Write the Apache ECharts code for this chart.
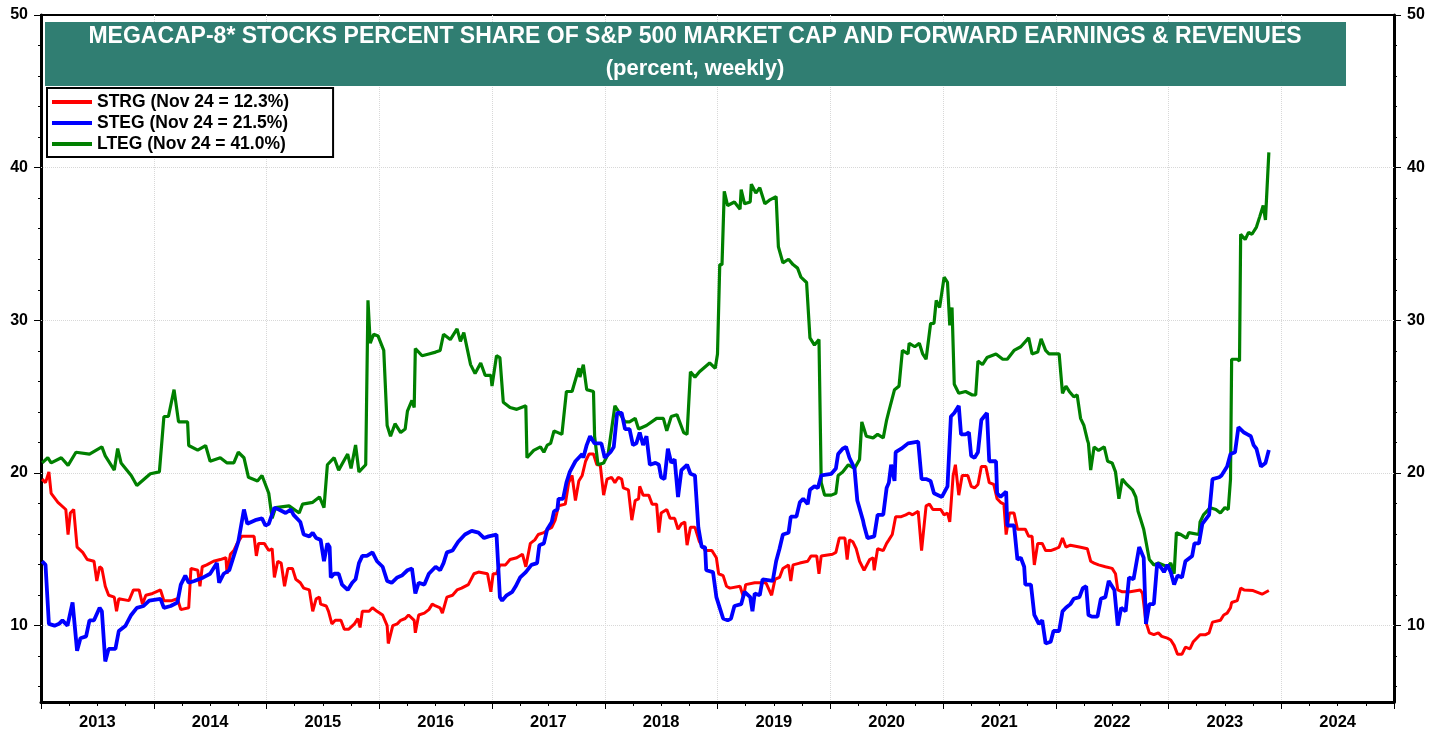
<!DOCTYPE html>
<html>
<head>
<meta charset="utf-8">
<script src="https://cdn.jsdelivr.net/npm/echarts@6/dist/echarts.min.js"></script>
<style>
  html, body { margin: 0; padding: 0; background: #fff; }
  #chart { width: 1446px; height: 736px; }
</style>
</head>
<body>
<div id="chart"></div>
<script>
// x = decimal year, y = percent
var yearLabels = ['2013', '2014', '2015', '2016', '2017', '2018', '2019', '2020', '2021', '2022', '2023', '2024'];
var yLabelValues = [10, 20, 30, 40, 50];
var yTickValues = [6, 8, 10, 12, 14, 16, 18, 20, 22, 24, 26, 28, 30, 32, 34, 36, 38, 40, 42, 44, 46, 48, 50];
var gridValues = [10, 20, 30, 40];
var seriesNames = ['STRG (Nov 24 = 12.3%)', 'STEG (Nov 24 = 21.5%)', 'LTEG (Nov 24 = 41.0%)'];

var strg = [
  [2013.01,19.6],[2013.04,19.37],[2013.07,20.07],[2013.09,18.67],[2013.15,18.08],[2013.22,17.61],[2013.24,15.97],[2013.26,17.38],[2013.29,17.61],[2013.32,15.15],[2013.37,14.8],[2013.41,14.33],[2013.47,14.22],[2013.495,12.93],[2013.52,13.86],[2013.54,13.75],[2013.57,12.58],[2013.6,11.99],[2013.65,11.87],[2013.67,10.94],[2013.69,11.76],[2013.78,11.64],[2013.82,12.34],[2013.87,12.34],[2013.9,11.41],[2013.93,11.99],[2013.99,12.11],
  [2014.06,12.34],[2014.09,11.64],[2014.16,11.64],[2014.21,11.76],[2014.24,11.05],[2014.31,11.17],[2014.33,13.75],[2014.39,13.63],[2014.41,12.58],[2014.43,13.86],[2014.47,13.98],[2014.53,14.22],[2014.59,14.33],[2014.64,14.45],[2014.65,13.4],[2014.68,14.68],[2014.71,14.92],[2014.74,15.39],[2014.78,15.85],[2014.89,15.85],[2014.91,14.57],[2014.93,15.39],[2014.98,15.39],
  [2015.02,14.92],[2015.05,15.04],[2015.07,13.16],[2015.1,14.22],[2015.13,14.1],[2015.16,12.58],[2015.19,13.75],[2015.23,13.75],[2015.26,13.04],[2015.3,12.81],[2015.33,12.46],[2015.38,12.34],[2015.41,10.94],[2015.44,11.76],[2015.47,11.87],[2015.48,11.41],[2015.53,11.29],[2015.55,10.94],[2015.58,10.12],[2015.61,10.35],[2015.66,10.35],[2015.69,9.77],[2015.73,9.77],[2015.78,10.12],[2015.81,10.47],[2015.83,9.88],[2015.85,10.94],[2015.91,10.94],[2015.94,11.17],[2015.98,10.94],
  [2016.03,10.7],[2016.07,10.0],[2016.08,8.83],[2016.12,10.0],[2016.16,10.12],[2016.19,10.35],[2016.23,10.47],[2016.26,10.7],[2016.31,10.35],[2016.32,9.53],[2016.35,10.7],[2016.4,10.82],[2016.44,11.05],[2016.47,11.41],[2016.5,11.29],[2016.54,11.17],[2016.56,10.82],[2016.6,11.87],[2016.65,11.99],[2016.69,12.34],[2016.73,12.46],[2016.79,12.69],[2016.84,13.4],[2016.88,13.51],[2016.96,13.4],[2016.99,12.22],
  [2017.01,13.4],[2017.04,13.4],[2017.07,13.98],[2017.12,13.98],[2017.16,14.33],[2017.22,14.45],[2017.27,14.68],[2017.3,13.86],[2017.34,15.39],[2017.38,15.62],[2017.41,15.97],[2017.46,16.09],[2017.5,16.32],[2017.53,16.44],[2017.56,16.91],[2017.59,17.85],[2017.65,17.96],[2017.68,19.37],[2017.71,19.84],[2017.74,18.2],[2017.77,19.48],[2017.8,19.84],[2017.83,20.77],[2017.86,21.24],[2017.9,21.24],[2017.93,20.54],[2017.96,20.54],[2017.99,18.55],
  [2018.02,19.6],[2018.06,19.72],[2018.09,19.37],[2018.12,19.72],[2018.15,19.6],[2018.165,19.02],[2018.21,18.9],[2018.24,16.91],[2018.27,18.2],[2018.3,18.31],[2018.31,19.13],[2018.34,18.55],[2018.39,18.55],[2018.42,17.96],[2018.46,17.96],[2018.48,16.09],[2018.5,17.38],[2018.55,17.61],[2018.58,17.03],[2018.62,17.03],[2018.65,16.32],[2018.68,16.67],[2018.71,16.79],[2018.73,15.27],[2018.76,16.44],[2018.8,16.44],[2018.84,15.5],[2018.89,14.92],[2018.95,14.92],[2018.99,14.45],
  [2019.01,13.4],[2019.05,13.28],[2019.08,12.58],[2019.11,12.46],[2019.2,12.58],[2019.23,11.87],[2019.25,12.69],[2019.33,12.81],[2019.43,12.81],[2019.48,11.99],[2019.51,13.04],[2019.55,13.16],[2019.58,13.75],[2019.63,13.98],[2019.65,12.93],[2019.67,13.98],[2019.73,14.1],[2019.8,14.22],[2019.83,14.57],[2019.88,14.57],[2019.9,13.4],[2019.92,14.57],
  [2020.02,14.68],[2020.05,14.8],[2020.08,15.74],[2020.13,15.74],[2020.15,14.33],[2020.17,15.62],[2020.2,15.5],[2020.23,15.04],[2020.26,14.22],[2020.3,13.63],[2020.35,14.33],[2020.38,14.45],[2020.39,13.63],[2020.42,15.04],[2020.47,14.92],[2020.5,15.39],[2020.52,15.62],[2020.55,15.97],[2020.58,17.14],[2020.63,17.14],[2020.67,17.26],[2020.7,17.38],[2020.73,17.26],[2020.78,17.49],[2020.81,14.92],[2020.85,17.85],[2020.88,17.96],[2020.91,17.61],[2020.98,17.61],
  [2021.01,17.26],[2021.04,17.38],[2021.06,16.79],[2021.09,19.84],[2021.11,20.54],[2021.14,18.55],[2021.17,19.84],[2021.22,19.84],[2021.25,19.13],[2021.28,19.02],[2021.31,19.25],[2021.34,20.42],[2021.38,20.42],[2021.41,19.37],[2021.45,19.25],[2021.48,18.31],[2021.51,18.08],[2021.54,17.96],[2021.56,15.97],[2021.59,17.38],[2021.63,17.38],[2021.66,16.32],[2021.73,16.32],[2021.76,15.85],[2021.79,15.85],[2021.81,13.98],[2021.84,15.39],[2021.88,15.39],[2021.91,14.92],[2021.955,14.92],
  [2022.0,15.04],[2022.03,15.15],[2022.06,15.74],[2022.09,15.15],[2022.13,15.27],[2022.21,15.15],[2022.28,15.04],[2022.31,14.22],[2022.34,14.1],[2022.38,13.98],[2022.44,13.86],[2022.5,13.75],[2022.53,13.4],[2022.55,12.34],[2022.59,12.22],[2022.66,12.22],[2022.75,12.34],[2022.77,12.11],[2022.8,10.23],[2022.83,9.53],[2022.87,9.41],[2022.91,9.53],[2022.94,9.3],[2022.99,9.18],
  [2023.02,9.06],[2023.05,8.71],[2023.08,8.13],[2023.12,8.13],[2023.15,8.59],[2023.19,8.48],[2023.22,8.95],[2023.28,9.41],[2023.33,9.41],[2023.36,9.53],[2023.39,10.23],[2023.46,10.35],[2023.49,10.7],[2023.52,10.82],[2023.55,11.17],[2023.56,11.52],[2023.61,11.64],[2023.64,12.46],[2023.67,12.34],[2023.75,12.3],[2023.83,12.06],[2023.89,12.3]
];

var steg = [
  [2013.01,14.22],[2013.04,13.98],[2013.07,10.12],[2013.12,10.0],[2013.16,10.12],[2013.19,10.35],[2013.235,10.0],[2013.28,11.52],[2013.32,8.36],[2013.35,9.18],[2013.4,9.3],[2013.43,10.35],[2013.47,10.35],[2013.52,11.17],[2013.54,10.94],[2013.57,7.66],[2013.6,8.48],[2013.66,8.48],[2013.69,9.65],[2013.75,10.0],[2013.8,10.7],[2013.85,11.17],[2013.91,11.29],[2013.96,11.64],
  [2014.06,11.76],[2014.09,11.17],[2014.15,11.29],[2014.21,11.52],[2014.24,12.69],[2014.28,13.28],[2014.31,12.81],[2014.36,12.93],[2014.44,13.16],[2014.5,13.4],[2014.56,14.1],[2014.58,12.81],[2014.62,13.4],[2014.67,13.63],[2014.71,14.57],[2014.75,15.5],[2014.8,17.61],[2014.83,16.67],[2014.9,16.91],[2014.96,17.03],[2014.99,16.56],
  [2015.02,16.67],[2015.07,17.73],[2015.11,17.61],[2015.17,17.38],[2015.215,17.61],[2015.24,17.26],[2015.3,16.79],[2015.33,15.97],[2015.38,15.85],[2015.41,16.09],[2015.44,15.74],[2015.48,15.62],[2015.51,14.22],[2015.54,15.39],[2015.56,15.15],[2015.57,13.16],[2015.6,13.4],[2015.64,13.4],[2015.67,12.69],[2015.72,12.34],[2015.76,12.81],[2015.79,13.04],[2015.82,14.1],[2015.85,14.57],[2015.89,14.57],[2015.94,14.8],[2015.98,14.22],
  [2016.03,13.86],[2016.07,12.93],[2016.11,12.81],[2016.16,13.16],[2016.2,13.28],[2016.25,13.63],[2016.29,13.75],[2016.32,12.11],[2016.35,12.81],[2016.4,12.69],[2016.44,13.4],[2016.5,13.86],[2016.54,13.63],[2016.57,14.1],[2016.6,14.8],[2016.65,14.92],[2016.7,15.5],[2016.76,15.97],[2016.82,16.21],[2016.88,16.09],[2016.93,15.74],[2016.97,15.85],
  [2017.04,15.97],[2017.07,11.87],[2017.09,11.64],[2017.13,11.99],[2017.18,12.22],[2017.21,12.58],[2017.25,13.16],[2017.3,13.51],[2017.35,13.98],[2017.4,14.1],[2017.42,15.27],[2017.46,15.39],[2017.49,16.32],[2017.53,16.79],[2017.55,17.49],[2017.58,17.61],[2017.59,18.31],[2017.63,18.31],[2017.66,19.37],[2017.69,20.07],[2017.74,20.77],[2017.8,21.24],[2017.81,21.0],[2017.84,21.83],[2017.87,22.41],[2017.91,21.94],[2017.97,21.94],
  [2018.0,21.0],[2018.05,21.36],[2018.08,21.71],[2018.11,23.93],[2018.15,23.93],[2018.18,22.88],[2018.22,22.88],[2018.25,21.83],[2018.28,21.94],[2018.31,22.65],[2018.34,21.83],[2018.37,22.41],[2018.4,20.54],[2018.45,20.66],[2018.48,20.54],[2018.5,19.72],[2018.53,19.6],[2018.56,21.59],[2018.59,20.66],[2018.62,20.89],[2018.65,18.43],[2018.68,20.19],[2018.73,20.54],[2018.76,19.95],[2018.8,19.84],[2018.83,16.44],[2018.86,15.15],[2018.89,15.15],[2018.9,13.63],[2018.96,13.51],[2018.99,11.87],
  [2019.02,11.17],[2019.05,10.47],[2019.09,10.35],[2019.12,10.47],[2019.15,11.29],[2019.21,11.41],[2019.24,12.22],[2019.29,11.87],[2019.31,10.94],[2019.33,12.11],[2019.375,11.99],[2019.4,13.04],[2019.49,12.93],[2019.52,14.22],[2019.55,15.04],[2019.58,15.97],[2019.63,16.09],[2019.65,17.14],[2019.7,17.14],[2019.73,18.08],[2019.76,18.31],[2019.8,17.96],[2019.82,18.9],[2019.86,19.13],[2019.89,19.02],[2019.92,19.84],
  [2020.01,19.95],[2020.05,20.3],[2020.07,21.24],[2020.11,21.59],[2020.14,21.71],[2020.17,21.0],[2020.215,20.3],[2020.24,18.2],[2020.29,16.91],[2020.3,16.56],[2020.33,15.74],[2020.39,15.85],[2020.42,17.26],[2020.47,17.26],[2020.5,19.02],[2020.52,19.37],[2020.54,20.54],[2020.57,19.48],[2020.58,21.36],[2020.63,21.59],[2020.69,21.94],[2020.78,22.06],[2020.81,19.6],[2020.85,19.6],[2020.89,19.48],[2020.92,18.67],[2020.99,18.43],
  [2021.04,19.13],[2021.07,23.7],[2021.1,23.93],[2021.14,24.4],[2021.16,22.53],[2021.2,22.53],[2021.23,22.65],[2021.25,21.12],[2021.28,21.0],[2021.31,21.36],[2021.34,23.47],[2021.39,23.93],[2021.41,20.77],[2021.47,20.77],[2021.48,18.67],[2021.51,18.43],[2021.56,18.78],[2021.57,16.56],[2021.63,16.56],[2021.66,14.33],[2021.69,14.45],[2021.72,13.86],[2021.73,12.69],[2021.78,12.69],[2021.81,10.7],[2021.85,10.12],[2021.88,10.35],[2021.91,8.83],[2021.955,8.95],[2021.98,9.65],
  [2022.03,9.65],[2022.06,10.94],[2022.09,11.17],[2022.13,11.41],[2022.16,11.76],[2022.21,11.87],[2022.24,12.46],[2022.27,12.58],[2022.29,10.7],[2022.32,10.59],[2022.37,10.59],[2022.4,11.76],[2022.44,11.87],[2022.47,12.93],[2022.52,12.34],[2022.55,10.0],[2022.58,11.17],[2022.62,10.94],[2022.65,13.16],[2022.69,13.04],[2022.74,15.15],[2022.78,14.45],[2022.8,10.12],[2022.83,11.41],[2022.87,11.41],[2022.9,14.1],[2022.94,13.75],[2022.96,13.51],[2022.99,13.98],
  [2023.02,13.51],[2023.05,12.69],[2023.08,13.28],[2023.12,13.16],[2023.15,14.22],[2023.21,14.57],[2023.23,15.39],[2023.27,15.39],[2023.3,16.67],[2023.36,17.26],[2023.39,19.6],[2023.45,19.72],[2023.47,19.84],[2023.52,20.42],[2023.55,21.24],[2023.59,21.36],[2023.62,23.0],[2023.67,22.65],[2023.7,22.53],[2023.73,22.41],[2023.755,21.83],[2023.78,21.59],[2023.82,20.42],[2023.86,20.66],[2023.89,21.5]
];

var lteg = [
  [2013.01,20.66],[2013.06,21.0],[2013.09,20.66],[2013.18,21.0],[2013.24,20.5],[2013.31,21.36],[2013.43,21.24],[2013.54,21.71],[2013.57,21.12],[2013.65,20.19],[2013.68,21.6],[2013.71,20.66],[2013.8,19.84],[2013.85,19.18],[2013.97,19.95],
  [2014.05,20.07],[2014.09,23.7],[2014.13,23.7],[2014.18,25.46],[2014.22,23.35],[2014.3,23.35],[2014.31,21.8],[2014.39,21.5],[2014.46,21.8],[2014.5,20.77],[2014.59,21.0],[2014.65,20.66],[2014.71,20.66],[2014.75,21.36],[2014.8,21.0],[2014.84,19.72],[2014.92,19.48],[2014.96,19.84],
  [2015.02,18.67],[2015.05,17.03],[2015.08,17.73],[2015.2,17.85],[2015.29,17.38],[2015.32,17.96],[2015.41,18.08],[2015.47,18.43],[2015.51,17.73],[2015.54,20.54],[2015.6,21.0],[2015.64,20.19],[2015.72,21.24],[2015.75,20.3],[2015.79,21.83],[2015.82,20.07],[2015.88,20.54],[2015.9,31.31],[2015.92,28.5],[2015.95,29.09],[2015.99,28.97],
  [2016.04,28.03],[2016.07,23.11],[2016.1,22.41],[2016.14,23.23],[2016.19,22.65],[2016.23,22.88],[2016.25,24.05],[2016.29,24.75],[2016.31,24.29],[2016.32,28.15],[2016.38,27.68],[2016.44,27.8],[2016.5,27.92],[2016.54,28.03],[2016.57,29.09],[2016.63,28.74],[2016.69,29.44],[2016.72,28.62],[2016.75,29.2],[2016.81,27.1],[2016.85,26.51],[2016.9,27.21],[2016.94,26.39],[2016.99,26.39],
  [2017.0,25.69],[2017.04,27.68],[2017.07,27.56],[2017.1,24.64],[2017.16,24.29],[2017.22,24.17],[2017.3,24.4],[2017.31,21.0],[2017.37,21.48],[2017.43,21.71],[2017.46,21.36],[2017.49,21.83],[2017.52,21.94],[2017.55,22.76],[2017.62,22.53],[2017.66,25.34],[2017.71,25.34],[2017.77,26.86],[2017.78,26.28],[2017.81,27.1],[2017.84,25.46],[2017.9,25.34],[2017.91,22.41],[2017.94,20.54],[2017.99,20.66],
  [2018.03,21.24],[2018.09,24.4],[2018.12,24.05],[2018.18,23.35],[2018.22,23.35],[2018.27,23.58],[2018.3,22.88],[2018.37,23.11],[2018.46,23.58],[2018.52,23.58],[2018.55,22.76],[2018.59,23.7],[2018.64,23.82],[2018.7,22.65],[2018.73,22.53],[2018.76,26.63],[2018.8,26.28],[2018.84,26.63],[2018.93,27.21],[2018.98,26.86],
  [2019.0,27.8],[2019.02,33.65],[2019.04,33.65],[2019.06,38.45],[2019.09,37.52],[2019.15,37.75],[2019.2,37.28],[2019.21,38.57],[2019.24,37.63],[2019.29,37.75],[2019.3,38.92],[2019.34,38.34],[2019.375,38.69],[2019.42,37.63],[2019.46,37.87],[2019.52,38.1],[2019.54,34.82],[2019.58,33.77],[2019.63,34.0],[2019.67,33.65],[2019.71,33.42],[2019.74,32.83],[2019.79,32.48],[2019.82,28.85],[2019.86,28.38],[2019.9,28.74],[2019.92,19.37],[2019.95,18.55],
  [2020.01,18.55],[2020.05,18.67],[2020.07,19.84],[2020.11,20.07],[2020.16,20.54],[2020.215,20.3],[2020.26,20.89],[2020.28,23.35],[2020.32,22.41],[2020.38,22.3],[2020.42,22.53],[2020.47,22.3],[2020.5,23.47],[2020.52,24.05],[2020.57,25.46],[2020.61,25.69],[2020.64,28.03],[2020.69,27.8],[2020.7,28.5],[2020.75,28.27],[2020.79,28.5],[2020.82,27.8],[2020.85,27.45],[2020.89,29.79],[2020.92,29.8],[2020.94,31.31],[2020.97,30.84],
  [2021.01,32.83],[2021.04,32.48],[2021.06,29.67],[2021.08,30.84],[2021.1,25.81],[2021.14,25.22],[2021.2,25.34],[2021.26,25.11],[2021.29,25.11],[2021.31,27.33],[2021.35,27.1],[2021.39,27.56],[2021.47,27.8],[2021.53,27.45],[2021.57,27.45],[2021.63,28.03],[2021.69,28.27],[2021.76,28.85],[2021.79,27.8],[2021.84,27.92],[2021.87,28.78],[2021.91,28.03],[2021.94,27.8],
  [2022.03,27.8],[2022.06,25.22],[2022.09,25.69],[2022.12,25.34],[2022.16,24.99],[2022.19,25.11],[2022.22,23.58],[2022.25,23.11],[2022.28,22.18],[2022.29,21.94],[2022.31,20.19],[2022.34,21.71],[2022.38,21.48],[2022.43,21.71],[2022.46,20.77],[2022.5,20.66],[2022.53,20.07],[2022.56,18.31],[2022.59,19.6],[2022.63,19.25],[2022.68,18.9],[2022.71,18.43],[2022.73,17.49],[2022.75,17.03],[2022.78,16.32],[2022.83,14.33],[2022.87,13.98],[2022.91,14.1],[2022.99,13.86],
  [2023.02,14.1],[2023.05,13.4],[2023.07,16.09],[2023.11,15.97],[2023.16,15.74],[2023.18,16.09],[2023.27,15.97],[2023.28,16.79],[2023.31,17.26],[2023.37,17.73],[2023.42,17.61],[2023.46,17.38],[2023.5,17.73],[2023.53,17.61],[2023.55,19.6],[2023.56,27.45],[2023.61,27.45],[2023.63,27.33],[2023.64,35.64],[2023.68,35.29],[2023.71,35.76],[2023.74,35.64],[2023.78,36.11],[2023.81,36.81],[2023.84,37.52],[2023.86,36.58],[2023.89,41.0]
];

var font = "'Liberation Sans', Arial, sans-serif";

// visible y axis: line, small ticks every 2, labels every 10
var yAxisMain = function (pos) {
    return {
        type: 'value', position: pos, min: 5, max: 50,
        axisLine: { show: true, lineStyle: { color: '#000', width: 3 } },
        axisTick: { show: true, customValues: yTickValues, length: 3, lineStyle: { color: '#000', width: 1 } },
        axisLabel: { customValues: yLabelValues, color: '#000', fontFamily: font, fontWeight: 700, fontSize: 16, margin: 13 },
        splitLine: { show: false }
    };
};
// overlay axis: longer ticks at labelled values
var yAxisMajor = function (pos) {
    return {
        type: 'value', position: pos, min: 5, max: 50,
        axisLine: { show: false },
        axisTick: { show: true, customValues: yLabelValues, length: 7, lineStyle: { color: '#000', width: 1 } },
        axisLabel: { show: false },
        splitLine: { show: false }
    };
};

var option = {
    animation: false,
    backgroundColor: '#fff',
    grid: {
        left: 41, right: 52, top: 15, bottom: 34,
        show: true, borderColor: '#000', borderWidth: 2, backgroundColor: 'transparent'
    },
    graphic: [
        { type: 'rect', shape: { x: 45, y: 22, width: 1301, height: 64 }, style: { fill: '#307e72' }, z: 10 },
        { type: 'text', x: 695, y: 37, style: { text: 'MEGACAP-8* STOCKS PERCENT SHARE OF S&P 500 MARKET CAP AND FORWARD EARNINGS & REVENUES', fill: '#fff', font: 'bold 23px ' + font, textAlign: 'center', textVerticalAlign: 'middle' }, z: 11 },
        { type: 'text', x: 695, y: 69, style: { text: '(percent, weekly)', fill: '#fff', font: 'bold 22px ' + font, textAlign: 'center', textVerticalAlign: 'middle' }, z: 11 }
    ],
    legend: {
        data: seriesNames,
        orient: 'vertical',
        left: 47, top: 88,
        backgroundColor: '#fff',
        borderColor: '#000', borderWidth: 2, borderRadius: 0,
        padding: [5, 44, 4, 5],
        itemWidth: 40, itemHeight: 4, itemGap: 3,
        icon: 'rect',
        textStyle: { color: '#000', fontFamily: font, fontWeight: 'bold', fontSize: 17.5 },
        z: 12
    },
    xAxis: [
        {
            type: 'value', min: 2013, max: 2025, interval: 1,
            axisLine: { show: true, onZero: false, lineStyle: { color: '#000', width: 3 } },
            axisTick: { show: true, length: 7, lineStyle: { color: '#000', width: 1 } },
            minorTick: { show: true, splitNumber: 4, length: 4, lineStyle: { color: '#000', width: 1 } },
            axisLabel: { show: false },
            splitLine: { show: true, lineStyle: { color: '#d8d8d8', type: 'dotted', width: 1 } }
        },
        {
            type: 'category', data: yearLabels, position: 'bottom', boundaryGap: true,
            axisLine: { show: false }, axisTick: { show: false },
            axisLabel: { color: '#000', fontFamily: font, fontWeight: 'bold', fontSize: 16.5, margin: 12 },
            splitLine: { show: false }
        }
    ],
    yAxis: [yAxisMain('left'), yAxisMain('right'), yAxisMajor('left'), yAxisMajor('right')],
    series: [
        {
            name: seriesNames[0], type: 'line', data: strg, showSymbol: false, symbol: 'none',
            color: '#ff0000', lineStyle: { color: '#ff0000', width: 3 }, z: 3,
            markLine: {
                silent: true, symbol: ['none', 'none'], label: { show: false },
                lineStyle: { color: '#d8d8d8', type: 'dotted', width: 1 },
                data: gridValues.map(function (v) { return { yAxis: v }; }),
                z: 1
            }
        },
        {
            name: seriesNames[2], type: 'line', data: lteg, showSymbol: false, symbol: 'none',
            color: '#008000', lineStyle: { color: '#008000', width: 3.2 }, z: 4
        },
        {
            name: seriesNames[1], type: 'line', data: steg, showSymbol: false, symbol: 'none',
            color: '#0000ff', lineStyle: { color: '#0000ff', width: 3.8 }, z: 5
        }
    ]
};

var chart = echarts.init(document.getElementById('chart'));
chart.setOption(option);
</script>
</body>
</html>
